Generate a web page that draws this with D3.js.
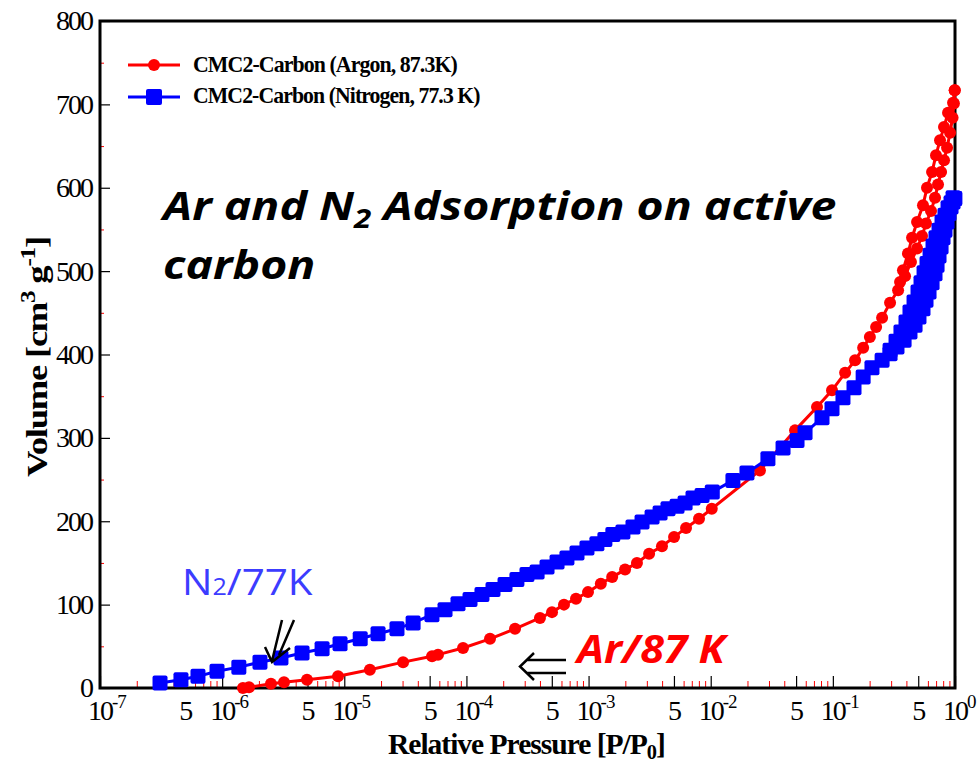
<!DOCTYPE html>
<html>
<head>
<meta charset="utf-8">
<script src="https://cdn.jsdelivr.net/npm/d3@7"></script>
<style>
  body { margin: 0; background: #fff; }
  svg { display: block; }
</style>
</head>
<body>
<div id="chart"></div>
<script>
// Isotherm data (P/P0, volume cm3/g)
var argonAdsP = [1.48e-6, 1.66e-6, 2.51e-6, 3.21e-6, 4.95e-6, 8.89e-6, 1.62e-5, 3.03e-5, 5.23e-5, 5.85e-5,
    9.38e-5, 1.56e-4, 2.50e-4, 4.00e-4, 5.02e-4, 6.29e-4, 7.89e-4, 9.89e-4, 1.26e-3, 1.56e-3,
    1.99e-3, 2.49e-3, 3.13e-3, 3.99e-3, 5.01e-3, 6.28e-3, 8.02e-3, 1.02e-2, 2.53e-2, 4.90e-2,
    7.42e-2, 9.84e-2, 0.126, 0.152, 0.177, 0.201, 0.226, 0.253, 0.294, 0.342,
    0.390, 0.436, 0.489, 0.537, 0.579, 0.636, 0.686, 0.726, 0.769, 0.813,
    0.861, 0.911, 0.955, 0.980, 0.995];
var argonAdsV = [0, 1, 5, 7, 10, 14, 22, 31, 38, 40,
    48, 59, 71, 84, 91, 100, 107, 115, 125, 133,
    142, 150, 161, 170, 181, 192, 203, 215, 261, 309,
    337, 357, 378, 393, 408, 421, 433, 444, 462, 477,
    494, 511, 527, 542, 557, 572, 588, 604, 619, 633,
    648, 666, 684, 701, 717];
var argonDesP = [0.995, 0.964, 0.877, 0.813, 0.754, 0.699, 0.649, 0.590, 0.547, 0.489, 0.445, 0.412, 0.375, 0.355];
var argonDesV = [717, 702, 690, 673, 657, 639, 619, 600, 579, 559, 540, 521, 501, 487];

var nitroAdsP = [3.10e-7, 4.60e-7, 6.34e-7, 9.08e-7, 1.37e-6, 2.04e-6, 3.03e-6, 4.51e-6, 6.58e-6, 9.23e-6,
    1.35e-5, 1.89e-5, 2.70e-5, 3.66e-5, 5.22e-5, 6.68e-5, 8.53e-5, 1.07e-4, 1.34e-4, 1.65e-4,
    2.07e-4, 2.59e-4, 3.13e-4, 3.79e-4, 4.57e-4, 5.52e-4, 6.65e-4, 8.04e-4, 9.70e-4, 1.17e-3,
    1.36e-3, 1.58e-3, 1.91e-3, 2.31e-3, 2.74e-3, 3.31e-3, 3.85e-3, 4.47e-3, 5.30e-3, 6.17e-3,
    7.16e-3, 8.49e-3, 1.03e-2, 1.52e-2, 1.98e-2, 2.94e-2, 3.91e-2, 5.09e-2, 5.92e-2, 8.15e-2,
    9.84e-2, 0.121, 0.149, 0.177, 0.209, 0.253, 0.294, 0.335, 0.383, 0.428,
    0.471, 0.507, 0.547, 0.579, 0.613, 0.649, 0.686, 0.713, 0.740, 0.769,
    0.798, 0.828, 0.861, 0.894, 0.928, 0.964, 0.995];
var nitroAdsV = [6, 10, 14, 20, 25, 31, 36, 42, 47, 53,
    59, 65, 71, 78, 88, 94, 101, 106, 112, 118,
    124, 130, 136, 139, 145, 151, 156, 162, 168, 173,
    178, 184, 187, 193, 199, 205, 210, 215, 218, 222,
    228, 231, 235, 249, 258, 275, 288, 297, 306, 324,
    335, 348, 360, 373, 384, 393, 401, 409, 417, 427,
    435, 445, 455, 465, 475, 486, 497, 507, 518, 529,
    540, 549, 559, 569, 577, 583, 587];
var nitroDesP = [0.995, 0.964, 0.928, 0.877, 0.828, 0.783, 0.740, 0.699, 0.661, 0.625,
    0.590, 0.558, 0.527, 0.498, 0.462, 0.428, 0.397, 0.361, 0.329, 0.294];
var nitroDesV = [587, 588, 582, 576, 567, 559, 549, 540, 530, 519,
    509, 498, 486, 475, 463, 451, 439, 427, 416, 405];

var yTicks = [0, 100, 200, 300, 400, 500, 600, 700, 800];
var yMinorTicks = [50, 150, 250, 350, 450, 550, 650, 750];
var decadeExps = [-7, -6, -5, -4, -3, -2, -1, 0];
var seriesNames = ["CMC2-Carbon (Argon, 87.3K)", "CMC2-Carbon (Nitrogen, 77.3 K)"];

// Layout
var width = 978, height = 765;
var plotL = 100, plotR = 955, plotT = 21, plotB = 688;
var serif = "'Liberation Serif', 'Times New Roman', serif";
var sans = "'Open Sans', 'Noto Sans', sans-serif";

var svg = d3.select("#chart").append("svg")
    .attr("width", width)
    .attr("height", height);

var x = d3.scaleLog().domain([1e-7, 1]).range([plotL, plotR]);
var y = d3.scaleLinear().domain([0, 800]).range([plotB, plotT]);

// squeeze a text horizontally to a given width, keeping its left edge
function squeeze(sel, w, x0) {
    var bw = sel.node().getBBox().width;
    var k = w / bw;
    sel.attr("transform", "translate(" + x0 + ",0) scale(" + k + ",1) translate(" + (-x0) + ",0)");
    return k;
}

// tick values on the log axis
var majorX = [], minorX = [];
decadeExps.forEach(function(e) {
    var base = Math.pow(10, e);
    majorX.push(base);
    if (e < 0) {
        majorX.push(5 * base);
        [2, 3, 4, 6, 7, 8, 9].forEach(function(m) { minorX.push(m * base); });
    }
});

// minor x ticks (red) and major (black), pointing inward
svg.append("g")
    .attr("transform", "translate(0," + plotB + ")")
    .call(d3.axisBottom(x).tickValues(minorX).tickSize(-7).tickFormat(""))
    .call(function(g) { g.select(".domain").remove(); })
    .selectAll("line").attr("stroke", "#ff0000").attr("stroke-width", 1);

svg.append("g")
    .attr("transform", "translate(0," + plotB + ")")
    .call(d3.axisBottom(x).tickValues(majorX).tickSize(-12).tickFormat(""))
    .call(function(g) { g.select(".domain").remove(); })
    .selectAll("line").attr("stroke", "#000").attr("stroke-width", 1.2);

// y ticks
svg.append("g")
    .attr("transform", "translate(" + plotL + ",0)")
    .call(d3.axisLeft(y).tickValues(yMinorTicks).tickSize(-4).tickFormat(""))
    .call(function(g) { g.select(".domain").remove(); })
    .selectAll("line").attr("stroke", "#ff0000").attr("stroke-width", 1);

var yAxis = svg.append("g")
    .attr("transform", "translate(" + plotL + ",0)")
    .call(d3.axisLeft(y).tickValues(yTicks).tickSize(-10).tickPadding(8).tickFormat(d3.format("d")))
    .call(function(g) { g.select(".domain").remove(); });
yAxis.selectAll("line").attr("stroke", "#000").attr("stroke-width", 1.2);
yAxis.selectAll("text")
    .attr("fill", "#000")
    .style("font-family", serif)
    .style("font-size", "28px")
    .style("letter-spacing", "-2px");

// x tick labels: "5" at 5x10^k, "10^k" at decades
var xLab = svg.append("g")
    .style("font-family", serif)
    .style("font-size", "28px")
    .style("letter-spacing", "-2px")
    .attr("fill", "#000");
decadeExps.forEach(function(e) {
    var t = xLab.append("text")
        .attr("x", x(Math.pow(10, e)) - 12)
        .attr("y", 720);
    t.append("tspan").text("10");
    t.append("tspan")
        .attr("dy", -12)
        .style("font-size", "19px")
        .style("letter-spacing", "-1px")
        .text(e === 0 ? "0" : "-" + (-e));
    if (e < 0) {
        xLab.append("text")
            .attr("x", x(5 * Math.pow(10, e)))
            .attr("y", 720)
            .attr("text-anchor", "middle")
            .text("5");
    }
});

// frame
svg.append("rect")
    .attr("x", plotL).attr("y", plotT)
    .attr("width", plotR - plotL).attr("height", plotB - plotT)
    .attr("fill", "none")
    .attr("stroke", "#000")
    .attr("stroke-width", 3);

// series
var line = d3.line()
    .x(function(d) { return x(d[0]); })
    .y(function(d) { return y(d[1]); });

function drawSeries(P, V, color, shape) {
    var pts = d3.zip(P, V);
    svg.append("path")
        .datum(pts)
        .attr("d", line)
        .attr("fill", "none")
        .attr("stroke", color)
        .attr("stroke-width", 3);
    if (shape === "circle") {
        svg.append("g").selectAll("circle")
            .data(pts).enter().append("circle")
            .attr("cx", function(d) { return x(d[0]); })
            .attr("cy", function(d) { return y(d[1]); })
            .attr("r", 6)
            .attr("fill", color);
    } else {
        svg.append("g").selectAll("rect")
            .data(pts).enter().append("rect")
            .attr("x", function(d) { return x(d[0]) - 7.5; })
            .attr("y", function(d) { return y(d[1]) - 7.5; })
            .attr("width", 15).attr("height", 15)
            .attr("rx", 2)
            .attr("fill", color);
    }
}

drawSeries(argonAdsP, argonAdsV, "#ff0000", "circle");
drawSeries(argonDesP, argonDesV, "#ff0000", "circle");
drawSeries(nitroAdsP, nitroAdsV, "#0000ff", "square");
drawSeries(nitroDesP, nitroDesV, "#0000ff", "square");

// legend
var legend = svg.append("g");
[["#ff0000", "circle", 65, 72, 264], ["#0000ff", "square", 97, 103, 287]].forEach(function(r, i) {
    legend.append("line")
        .attr("x1", 128).attr("x2", 180)
        .attr("y1", r[2]).attr("y2", r[2])
        .attr("stroke", r[0]).attr("stroke-width", 3);
    if (r[1] === "circle") {
        legend.append("circle").attr("cx", 154).attr("cy", r[2]).attr("r", 6).attr("fill", r[0]);
    } else {
        legend.append("rect").attr("x", 146).attr("y", r[2] - 8).attr("width", 16).attr("height", 16)
            .attr("rx", 2).attr("fill", r[0]);
    }
    var t = legend.append("text")
        .attr("x", 193).attr("y", r[3])
        .style("font-family", serif)
        .style("font-weight", "bold")
        .style("font-size", "24px")
        .style("letter-spacing", "-1px")
        .text(seriesNames[i]);
    squeeze(t, r[4], 193);
});

// axis titles
var xt = svg.append("text")
    .attr("x", 388).attr("y", 754)
    .style("font-family", serif)
    .style("font-weight", "bold")
    .style("font-size", "29px")
    .style("letter-spacing", "-1px");
xt.append("tspan").text("Relative Pressure [P/P");
xt.append("tspan").attr("dy", 5).style("font-size", "20px").text("0");
xt.append("tspan").attr("dy", -5).text("]");
squeeze(xt, 277, 388);

var yt = svg.append("g").attr("transform", "translate(47,477) rotate(-90)")
    .append("text")
    .attr("x", 0).attr("y", 0)
    .style("font-family", serif)
    .style("font-weight", "bold")
    .style("font-size", "29px")
    .style("letter-spacing", "-1px");
yt.append("tspan").text("Volume [cm");
yt.append("tspan").attr("dy", -12).style("font-size", "20px").text("3");
yt.append("tspan").attr("dy", 12).text(" g");
yt.append("tspan").attr("dy", -12).style("font-size", "20px").text("-1");
yt.append("tspan").attr("dy", 12).text("]");
squeeze(yt, 240, 0);

// annotations
var t1 = svg.append("text")
    .attr("x", 163).attr("y", 220)
    .style("font-family", sans)
    .style("font-weight", "bold")
    .style("font-style", "italic")
    .style("font-size", "40px");
t1.append("tspan").text("Ar and N");
t1.append("tspan").attr("dy", 8).style("font-size", "27px").text("2");
t1.append("tspan").attr("dy", -8).text(" Adsorption on active");
var k1 = squeeze(t1, 677, 163);
svg.append("text")
    .attr("x", 163).attr("y", 279)
    .style("font-family", sans)
    .style("font-weight", "bold")
    .style("font-style", "italic")
    .style("font-size", "40px")
    .attr("transform", "translate(163,0) scale(" + k1 + ",1) translate(-163,0)")
    .text("carbon");

var n2 = svg.append("text")
    .attr("x", 182).attr("y", 595)
    .attr("fill", "#3c3cff")
    .style("font-family", sans)
    .style("font-size", "37px");
n2.append("tspan").text("N");
n2.append("tspan").style("font-size", "23px").text("2");
n2.append("tspan").text("/77K");
squeeze(n2, 131, 182);

var ar = svg.append("text")
    .attr("x", 577).attr("y", 663)
    .attr("fill", "#ff0000")
    .style("font-family", sans)
    .style("font-weight", "bold")
    .style("font-style", "italic")
    .style("font-size", "40px")
    .text("Ar/87 K");
squeeze(ar, 156, 577);

// arrows
var arrows = svg.append("g")
    .attr("fill", "none")
    .attr("stroke", "#000")
    .attr("stroke-width", 2.5);
arrows.append("path").attr("d", "M566,660 L527,660 M566,673 L527,673 M534,653 L520,666.5 L534,680");
arrows.append("path").attr("d", "M282,620 L272,661 M294,620 L279,655 M265,647 L272,662 L290,648");
</script>
</body>
</html>
